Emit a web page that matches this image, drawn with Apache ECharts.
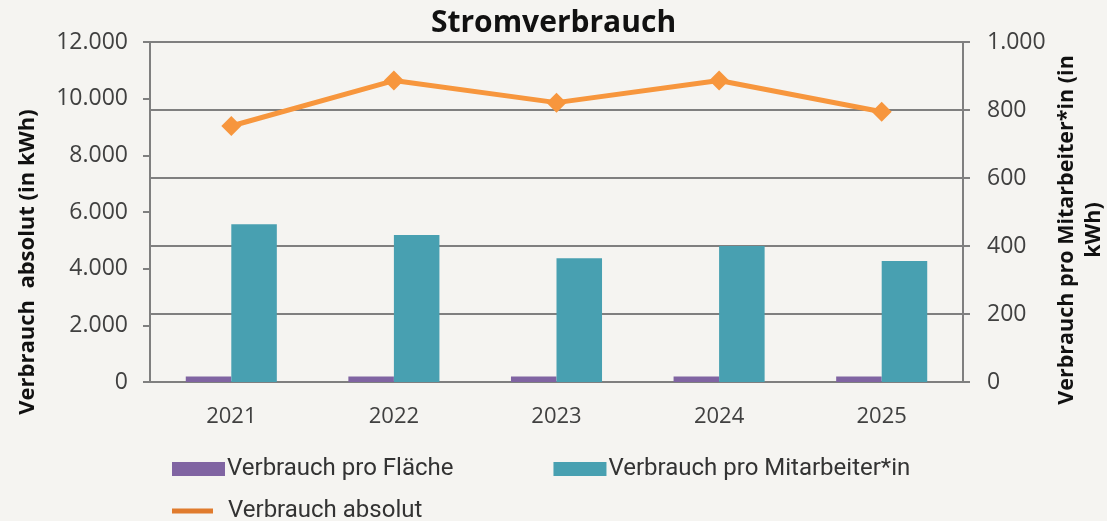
<!DOCTYPE html>
<html>
<head>
<meta charset="utf-8">
<script src="https://cdn.jsdelivr.net/npm/echarts@6/dist/echarts.min.js"></script>
<style>
  html, body { margin: 0; padding: 0; background: #f5f4f1; }
  #main { width: 1107px; height: 521px; }
</style>
</head>
<body>
<div id="main"></div>
<script>
var years = ['2021', '2022', '2023', '2024', '2025'];
var proFlaeche = [16, 16, 16, 16, 16];
var proMitarbeiter = [464, 432, 364, 400, 356];
var absolut = [9035, 10640, 9860, 10640, 9540];

var axisGray = '#7f7f7f';
var labelColor = '#404040';
var fontMain = "'Open Sans', 'DejaVu Sans', sans-serif";

var chart = echarts.init(document.getElementById('main'));

chart.setOption({
  backgroundColor: '#f5f4f1',
  animation: false,
  title: {
    text: 'Stromverbrauch',
    left: 'center',
    top: 3,
    textStyle: { fontFamily: fontMain, fontWeight: 'bold', fontSize: 30, color: '#111' }
  },
  grid: { left: 150, right: 144, top: 42, bottom: 139 },
  legend: [{
    data: ['Verbrauch pro Fläche', 'Verbrauch pro Mitarbeiter*in'],
    left: 167, top: 452,
    itemWidth: 53, itemHeight: 14, itemGap: 100,
    icon: 'rect',
    textStyle: { fontFamily: 'Roboto', fontSize: 24, color: '#333', padding: [0, 0, 0, -3] }
  }, {
    data: [{ name: 'Verbrauch absolut', icon: 'rect', itemStyle: { color: '#e07b2d' } }],
    left: 167, top: 494,
    itemWidth: 41, itemHeight: 5, itemGap: 10,
    textStyle: { fontFamily: 'Roboto', fontSize: 24, color: '#333', padding: [0, 0, 0, 10] }
  }],
  xAxis: {
    type: 'category',
    data: years,
    axisLine: { lineStyle: { color: axisGray, width: 2 } },
    axisTick: { length: 8, lineStyle: { color: axisGray, width: 2 } },
    axisLabel: { fontFamily: fontMain, fontSize: 22, color: labelColor, margin: 24 }
  },
  yAxis: [{
    type: 'value',
    min: 0, max: 12000, interval: 2000,
    axisLine: { show: true, lineStyle: { color: axisGray, width: 2 } },
    axisTick: { show: true, length: 7, lineStyle: { color: axisGray, width: 2 } },
    splitLine: { show: false },
    axisLabel: {
      fontFamily: fontMain, fontSize: 23, color: labelColor, margin: 22,
      formatter: function (v) { return v.toLocaleString('de-DE'); }
    }
  }, {
    type: 'value',
    min: 0, max: 1000, interval: 200,
    position: 'right',
    axisLine: { show: true, lineStyle: { color: axisGray, width: 2 } },
    axisTick: { show: true, length: 7, lineStyle: { color: axisGray, width: 2 } },
    splitLine: { show: true, lineStyle: { color: axisGray, width: 2 } },
    axisLabel: {
      fontFamily: fontMain, fontSize: 23, color: labelColor, margin: 24,
      formatter: function (v) { return v.toLocaleString('de-DE'); }
    }
  }],
  graphic: [{
    type: 'text',
    x: 28, y: 262,
    rotation: Math.PI / 2,
    style: {
      text: 'Verbrauch  absolut (in kWh)',
      fontFamily: fontMain, fontWeight: 'bold', fontSize: 22, fill: '#111',
      align: 'center', verticalAlign: 'middle'
    }
  }, {
    type: 'text',
    x: 1080, y: 230,
    rotation: Math.PI / 2,
    style: {
      text: 'Verbrauch pro Mitarbeiter*in (in\nkWh)',
      fontFamily: fontMain, fontWeight: 'bold', fontSize: 21.5, lineHeight: 27, fill: '#111',
      align: 'center', verticalAlign: 'middle'
    }
  }],
  series: [{
    name: 'Verbrauch pro Fläche',
    type: 'bar',
    yAxisIndex: 1,
    data: proFlaeche,
    barWidth: '28%',
    barGap: '0%',
    itemStyle: { color: '#8064a2' }
  }, {
    name: 'Verbrauch pro Mitarbeiter*in',
    type: 'bar',
    yAxisIndex: 1,
    data: proMitarbeiter,
    barWidth: '28%',
    itemStyle: { color: '#48a0b1' }
  }, {
    name: 'Verbrauch absolut',
    type: 'line',
    yAxisIndex: 0,
    data: absolut,
    symbol: 'diamond',
    symbolSize: 20,
    lineStyle: { color: '#f7963d', width: 5 },
    itemStyle: { color: '#f7963d' }
  }]
});
</script>
</body>
</html>
